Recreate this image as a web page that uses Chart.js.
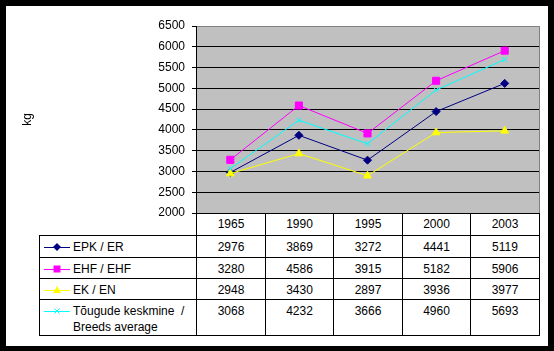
<!DOCTYPE html>
<html>
<head>
<meta charset="utf-8">
<script src="https://cdn.jsdelivr.net/npm/chart.js@4"></script>
<style>
html, body { margin: 0; padding: 0; background: #000; width: 554px; height: 351px; overflow: hidden; font-family: "Liberation Sans", Arial, sans-serif; }
#frame { position: absolute; left: 6px; top: 6px; width: 542px; height: 340px; background: #fff; }
#c { position: absolute; left: 0; top: 0; }
.cell { position: absolute; box-sizing: border-box; border: 1px solid #000; font-size: 12px; line-height: 16px; color: #000; text-align: center; padding-top: 3px; background: #fff; }
.cell.name { text-align: left; padding-left: 33px; padding-right: 2px; white-space: pre-wrap; }
.cell svg { position: absolute; left: 3px; top: 3px; }
</style>
</head>
<body>
<div id="frame"></div>
<canvas id="c" width="554" height="230"></canvas>
<div id="table"></div>
<script>
// data
const years = ["1965", "1990", "1995", "2000", "2003"];
const epk = [2976, 3869, 3272, 4441, 5119];
const ehf = [3280, 4586, 3915, 5182, 5906];
const ek = [2948, 3430, 2897, 3936, 3977];
const avg = [3068, 4232, 3666, 4960, 5693];
const seriesNames = ["EPK / ER", "EHF / EHF", "EK / EN", "Tõugude keskmine  / Breeds average"];
const yMin = 2000, yMax = 6500, yStep = 500;

const colors = ["#000080", "#FF00FF", "#FFFF00", "#00FFFF"];
const markers = [
    { pointStyle: "rectRot", radius: 4 },
    { pointStyle: "rect", radius: 5 },
    { pointStyle: "triangle", radius: 4.5 },
    { pointStyle: "crossRot", radius: 3.5 }
];
const values = [epk, ehf, ek, avg];
const font = { family: '"Liberation Sans", Arial, sans-serif', size: 12 };
const plotBottom = 213;

// gray plot area + right border
const plotFrame = {
    id: "plotFrame",
    beforeDraw(chart) {
        const { ctx, chartArea: a } = chart;
        ctx.save();
        ctx.fillStyle = "#C0C0C0";
        ctx.fillRect(a.left, a.top, a.right - a.left, a.bottom - a.top);
        ctx.strokeStyle = "#808080";
        ctx.lineWidth = 1;
        ctx.beginPath();
        ctx.moveTo(a.right + 0.5, a.top);
        ctx.lineTo(a.right + 0.5, a.bottom);
        ctx.stroke();
        ctx.restore();
    }
};

const chart = new Chart(document.getElementById("c"), {
    type: "line",
    data: {
        labels: years,
        datasets: values.map((v, i) => ({
            label: seriesNames[i],
            data: v,
            borderColor: colors[i],
            backgroundColor: colors[i],
            borderWidth: 1,
            pointStyle: markers[i].pointStyle,
            pointRadius: markers[i].radius,
            pointBorderWidth: 1,
            pointBorderColor: colors[i],
            pointBackgroundColor: colors[i],
            tension: 0,
            fill: false,
            order: 3 - i
        }))
    },
    options: {
        responsive: false,
        animation: false,
        events: [],
        layout: { autoPadding: false, padding: { top: 26, right: 15, bottom: 17, left: 0 } },
        plugins: { legend: { display: false }, tooltip: { enabled: false } },
        scales: {
            x: { display: false, offset: true },
            y: {
                min: yMin, max: yMax,
                ticks: { stepSize: yStep, color: "#000", font, padding: 7, callback: v => String(v) },
                grid: {
                    color: c => (c.tick && c.tick.value === yMax ? "#808080" : "#000"),
                    tickColor: "#000", tickLength: 4, lineWidth: 1
                },
                border: { color: "#000" },
                title: { display: true, text: "kg", color: "#000", font, padding: { top: 20, bottom: 0 } },
                afterFit: s => { s.width = 196; s.paddingTop = 0; s.paddingBottom = 0; }
            }
        }
    },
    plugins: [plotFrame]
});

// make sure the plot bottom sits on the table's top line
if (Math.round(chart.chartArea.bottom) !== plotBottom) {
    chart.resize(554, Math.round(chart.height + plotBottom - chart.chartArea.bottom));
}

// data table under the plot, columns aligned to the x scale
const a = chart.chartArea;
const colW = (a.right - a.left) / years.length;
const colX = years.map((_, i) => Math.round(a.left + i * colW)).concat(Math.round(a.right));
const rowY = [Math.round(a.bottom), 235, 257, 278, 299, 335];
const nameLeft = 39;
const table = document.getElementById("table");

function cell(x0, x1, y0, y1, html, cls) {
    const d = document.createElement("div");
    d.className = "cell" + (cls ? " " + cls : "");
    d.style.left = x0 + "px";
    d.style.top = y0 + "px";
    d.style.width = (x1 - x0 + 1) + "px";
    d.style.height = (y1 - y0 + 1) + "px";
    d.innerHTML = html;
    table.appendChild(d);
    return d;
}

function markerSvg(i) {
    const c = colors[i], cx = 14, cy = 8;
    let m = "";
    if (i === 0) m = `<polygon points="${cx - 4},${cy} ${cx},${cy - 4} ${cx + 4},${cy} ${cx},${cy + 4}" fill="${c}"/>`;
    if (i === 1) m = `<rect x="${cx - 3.5}" y="${cy - 3.5}" width="7" height="7" fill="${c}"/>`;
    if (i === 2) m = `<polygon points="${cx},${cy - 4} ${cx + 4},${cy + 3} ${cx - 4},${cy + 3}" fill="${c}"/>`;
    if (i === 3) m = `<path d="M${cx - 2.5} ${cy - 2.5}L${cx + 2.5} ${cy + 2.5}M${cx + 2.5} ${cy - 2.5}L${cx - 2.5} ${cy + 2.5}" stroke="${c}" stroke-width="1"/>`;
    return `<svg width="28" height="16"><line x1="1" y1="${cy + 0.5}" x2="27" y2="${cy + 0.5}" stroke="${c}" stroke-width="1"/>${m}</svg>`;
}

years.forEach((y, j) => {
    const d = cell(colX[j], colX[j + 1], rowY[0], rowY[1], y);
    d.style.paddingTop = "2px";
});
values.forEach((v, i) => {
    cell(nameLeft, colX[0], rowY[i + 1], rowY[i + 2], markerSvg(i) + seriesNames[i], "name");
    v.forEach((val, j) => cell(colX[j], colX[j + 1], rowY[i + 1], rowY[i + 2], String(val)));
});
</script>
</body>
</html>
